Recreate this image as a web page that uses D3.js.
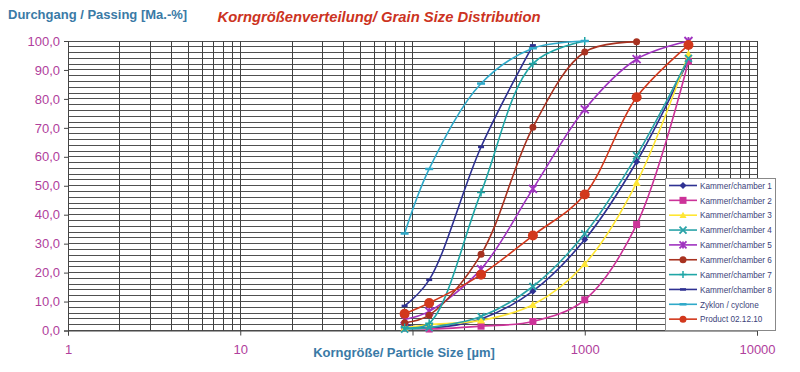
<!DOCTYPE html>
<html><head><meta charset="utf-8">
<script src="https://cdn.jsdelivr.net/npm/d3@7"></script>
<style>body{margin:0;background:#fff}svg{display:block}</style>
</head><body>
<svg id="c" width="800" height="372"></svg>
<script>
// ---- data ----
const sizes = [90, 125, 250, 500, 1000, 2000, 4000];
const seriesNames = ["Kammer/chamber 1","Kammer/chamber 2","Kammer/chamber 3","Kammer/chamber 4","Kammer/chamber 5","Kammer/chamber 6","Kammer/chamber 7","Kammer/chamber 8","Zyklon / cyclone","Product 02.12.10"];
const chamber1 = [2, 1, 4, 13.6, 31.4, 58.3, 93.5];
const chamber2 = [1, 0.5, 1.5, 3.1, 10.6, 36.6, 93];
const chamber3 = [1, 2, 3.5, 8.9, 23, 51, 95.5];
const chamber4 = [0.5, 1, 4.8, 15.2, 33.4, 60.4, 94];
const chamber5 = [3.8, 6.6, 21.2, 48.9, 76.4, 93.7, 100];
const chamber6 = [2.7, 5.3, 26.3, 70.2, 96.2, 99.7];
const chamber7 = [1, 2.5, 47.7, 92.2, 100];
const chamber8 = [8.5, 17.5, 63.4, 98.5];
const cyclone  = [33.5, 55.8, 85.3, 97.5, 100];
const product  = [5.8, 9.5, 19.3, 32.8, 47, 80.6, 98.6];
const yTicks = [0, 10, 20, 30, 40, 50, 60, 70, 80, 90, 100];
const xTicks = [1, 10, 100, 1000, 10000];

const allValues = [chamber1, chamber2, chamber3, chamber4, chamber5, chamber6, chamber7, chamber8, cyclone, product];
const styles = [
  {color:"#2e3192", sym:"diamond", size:7},
  {color:"#cc3399", sym:"square", size:7},
  {color:"#ffe633", sym:"triangle", size:8},
  {color:"#2aa3a8", sym:"x", size:7},
  {color:"#a033c0", sym:"asterisk", size:8},
  {color:"#a83220", sym:"circle", size:7},
  {color:"#1fa6a6", sym:"plus", size:8},
  {color:"#2e3192", sym:"dash", size:6},
  {color:"#2fa9c9", sym:"dash", size:8},
  {color:"#d2381c", sym:"bigcircle", size:10}
];

const svg = d3.select("#c");
const x = d3.scaleLog().domain([1, 10000]).range([68, 757]);
const y = d3.scaleLinear().domain([0, 100]).range([330.5, 41]);

// grid
const g = svg.append("g");
g.selectAll("line.h").data(d3.range(0, 101, 2)).join("line")
  .attr("x1", x(1)).attr("x2", x(10000)).attr("y1", d => y(d)).attr("y2", d => y(d))
  .attr("stroke", "#505050").attr("stroke-width", 1).attr("shape-rendering","crispEdges");
const vGrid = [];
for (let e = 0; e < 4; e++) for (let m = 1; m <= 9; m++) vGrid.push(m * Math.pow(10, e));
vGrid.push(10000);
g.selectAll("line.v").data(vGrid).join("line")
  .attr("x1", d => x(d)).attr("x2", d => x(d)).attr("y1", y(0)).attr("y2", y(100))
  .attr("stroke", "#404040").attr("stroke-width", 1).attr("shape-rendering","crispEdges");

// axes
const yAxis = d3.axisLeft(y).tickValues(yTicks).tickSize(4).tickPadding(4)
  .tickFormat(d => d3.format(".1f")(d).replace(".", ","));
const ya = svg.append("g").attr("transform", `translate(${x(1)},0)`).call(yAxis);
ya.select(".domain").attr("stroke", "#444");
ya.selectAll(".tick line").attr("stroke", "#444");
ya.selectAll("text").attr("fill", "#b0409c").style("font", "13px Arial, 'Liberation Sans', sans-serif");

const xAxis = d3.axisBottom(x).tickValues(xTicks).tickSize(5).tickPadding(9)
  .tickFormat(d => d === 100 ? "" : d3.format("d")(d));
const xa = svg.append("g").attr("transform", `translate(0,${y(0)})`).call(xAxis);
xa.select(".domain").attr("stroke", "#444");
xa.selectAll(".tick line").attr("stroke", "#444");
xa.selectAll("text").attr("fill", "#b0409c").style("font", "13px Arial, 'Liberation Sans', sans-serif");

// symbol drawing
function drawSym(sel, s) {
  const r = s.size / 2;
  if (s.sym === "diamond") sel.append("path").attr("d", `M0,${-r}L${r},0L0,${r}L${-r},0Z`).attr("fill", s.color);
  else if (s.sym === "square") sel.append("rect").attr("x", -r).attr("y", -r).attr("width", 2*r).attr("height", 2*r).attr("fill", s.color);
  else if (s.sym === "triangle") sel.append("path").attr("d", `M0,${-r}L${r},${r*0.8}L${-r},${r*0.8}Z`).attr("fill", s.color);
  else if (s.sym === "x") sel.append("path").attr("d", `M${-r},${-r}L${r},${r}M${-r},${r}L${r},${-r}`).attr("stroke", s.color).attr("stroke-width", 1.8);
  else if (s.sym === "asterisk") sel.append("path").attr("d", `M${-r},${-r}L${r},${r}M${-r},${r}L${r},${-r}M0,${-r}L0,${r}`).attr("stroke", s.color).attr("stroke-width", 1.8);
  else if (s.sym === "plus") sel.append("path").attr("d", `M${-r},0L${r},0M0,${-r}L0,${r}`).attr("stroke", s.color).attr("stroke-width", 1.5);
  else if (s.sym === "dash") sel.append("path").attr("d", `M${-r},0L${r},0`).attr("stroke", s.color).attr("stroke-width", 2.5);
  else if (s.sym === "circle" || s.sym === "bigcircle") sel.append("circle").attr("r", r).attr("fill", s.color);
}

// series
const line = d3.line().x(d => x(d[0])).y(d => y(d[1])).curve(d3.curveCatmullRom.alpha(0.5));
allValues.forEach((vals, i) => {
  const pts = vals.map((v, j) => [sizes[j], v]);
  const s = styles[i];
  svg.append("path").datum(pts).attr("d", line).attr("fill", "none")
    .attr("stroke", s.color).attr("stroke-width", 1.6);
  svg.append("g").selectAll("g").data(pts).join("g")
    .attr("transform", d => `translate(${x(d[0])},${y(d[1])})`)
    .each(function () { drawSym(d3.select(this), s); });
});

// legend
const lg = svg.append("g");
lg.append("rect").attr("x", 665.5).attr("y", 178.5).attr("width", 110).attr("height", 152)
  .attr("fill", "#fff").attr("stroke", "#888");
seriesNames.forEach((n, i) => {
  const yy = 185.5 + i * 14.85;
  const s = styles[i];
  lg.append("line").attr("x1", 669).attr("x2", 697).attr("y1", yy).attr("y2", yy)
    .attr("stroke", s.color).attr("stroke-width", 1.6);
  const sg = lg.append("g").attr("transform", `translate(683,${yy})`);
  drawSym(sg, Object.assign({}, s, {size: Math.min(s.size, 7)}));
  lg.append("text").attr("x", 700).attr("y", yy + 3.2).text(n)
    .attr("fill", "#3c3f7a").style("font", "8.2px Arial, 'Liberation Sans', sans-serif");
});

// titles
svg.append("text").attr("x", 8).attr("y", 19).text("Durchgang / Passing [Ma.-%]")
  .attr("fill", "#3a7aa6").style("font", "bold 13px Arial, 'Liberation Sans', sans-serif");
svg.append("text").attr("x", 379).attr("y", 22).attr("text-anchor", "middle")
  .text("Korngrößenverteilung/ Grain Size Distribution")
  .attr("fill", "#cc3322").style("font", "italic bold 14.8px Arial, 'Liberation Sans', sans-serif");
svg.append("text").attr("x", 404).attr("y", 357).attr("text-anchor", "middle")
  .text("Korngröße/ Particle Size [µm]")
  .attr("fill", "#3a7aa6").style("font", "bold 13px Arial, 'Liberation Sans', sans-serif");
</script>
</body></html>
